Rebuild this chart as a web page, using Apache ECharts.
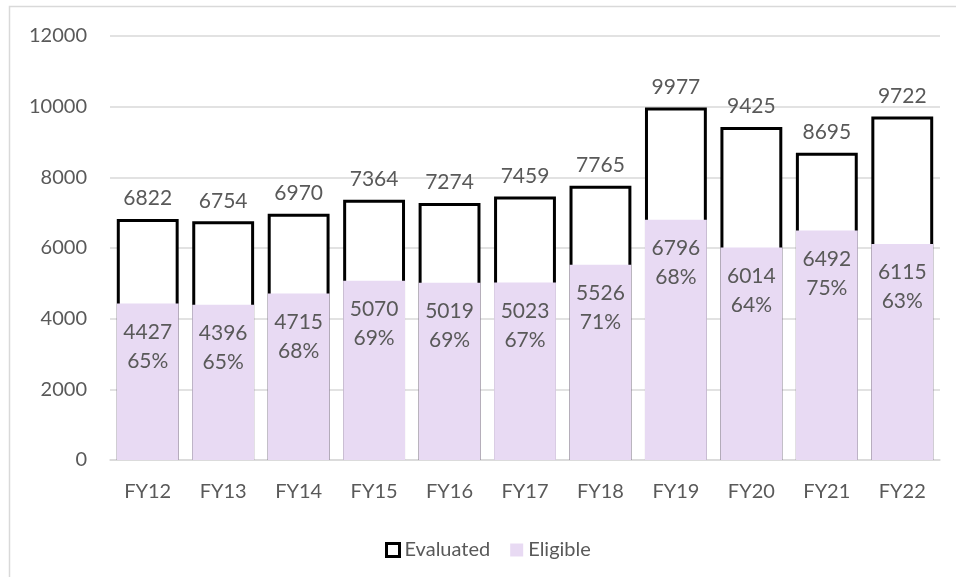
<!DOCTYPE html>
<html style="height: 100%">
<head>
<meta charset="utf-8">
<script src="https://cdn.jsdelivr.net/npm/echarts@6/dist/echarts.min.js"></script>
</head>
<body style="height: 100%; margin: 0; background: #fff">
<div id="container" style="width: 956px; height: 577px"></div>
<script type="text/javascript">
var years = ['FY12', 'FY13', 'FY14', 'FY15', 'FY16', 'FY17', 'FY18', 'FY19', 'FY20', 'FY21', 'FY22'];
var evaluated = [6822, 6754, 6970, 7364, 7274, 7459, 7765, 9977, 9425, 8695, 9722];
var eligible = [4427, 4396, 4715, 5070, 5019, 5023, 5526, 6796, 6014, 6492, 6115];

var textColor = '#595959';
var fontName = 'Lato';
var fs = 21;

var myChart = echarts.init(document.getElementById('container'));
var option = {
    animation: false,
    textStyle: { fontFamily: fontName },
    graphic: [{
        type: 'polyline',
        shape: { points: [[9.5, 600], [9.5, 6.5], [960, 6.5]] },
        style: { stroke: '#d9d9d9', lineWidth: 1.5, fill: null }
    }],
    grid: { left: 110, right: 16, top: 36, bottom: 117 },
    legend: {
        left: 380,
        top: 535,
        itemWidth: 13,
        itemHeight: 13,
        itemGap: 20,
        textStyle: { color: textColor, fontSize: fs - 1, fontFamily: fontName },
        data: [
            { name: 'Evaluated', icon: 'rect', itemStyle: { color: '#fff', borderColor: '#000', borderWidth: 3 } },
            { name: 'Eligible', icon: 'rect' }
        ]
    },
    xAxis: {
        type: 'category',
        data: years,
        axisTick: { show: false },
        axisLine: { lineStyle: { color: '#d9d9d9', width: 1.5 } },
        axisLabel: { color: textColor, fontSize: fs - 1, margin: 22 }
    },
    yAxis: {
        type: 'value',
        min: 0,
        max: 12000,
        interval: 2000,
        axisLabel: {
            color: textColor,
            fontSize: fs - 1,
            margin: 23,
            formatter: function (v) { return String(v); }
        },
        splitLine: { lineStyle: { color: '#d9d9d9', width: 1.5 } }
    },
    series: [
        {
            name: 'Evaluated',
            type: 'bar',
            data: evaluated,
            barCategoryGap: '18%',
            itemStyle: { color: '#fff', borderColor: '#000', borderWidth: 3 },
            label: {
                show: true,
                position: 'top',
                distance: 10,
                color: textColor,
                fontSize: fs
            }
        },
        {
            name: 'Eligible',
            type: 'bar',
            data: eligible,
            barGap: '-100%',
            itemStyle: { color: '#e8daf3' },
            label: {
                show: true,
                position: 'insideTop',
                distance: 14,
                color: textColor,
                fontSize: fs,
                lineHeight: 29,
                formatter: function (p) {
                    var pct = Math.round(p.value / evaluated[p.dataIndex] * 100);
                    return p.value + '\n' + pct + '%';
                }
            }
        }
    ]
};
myChart.setOption(option);
</script>
</body>
</html>
